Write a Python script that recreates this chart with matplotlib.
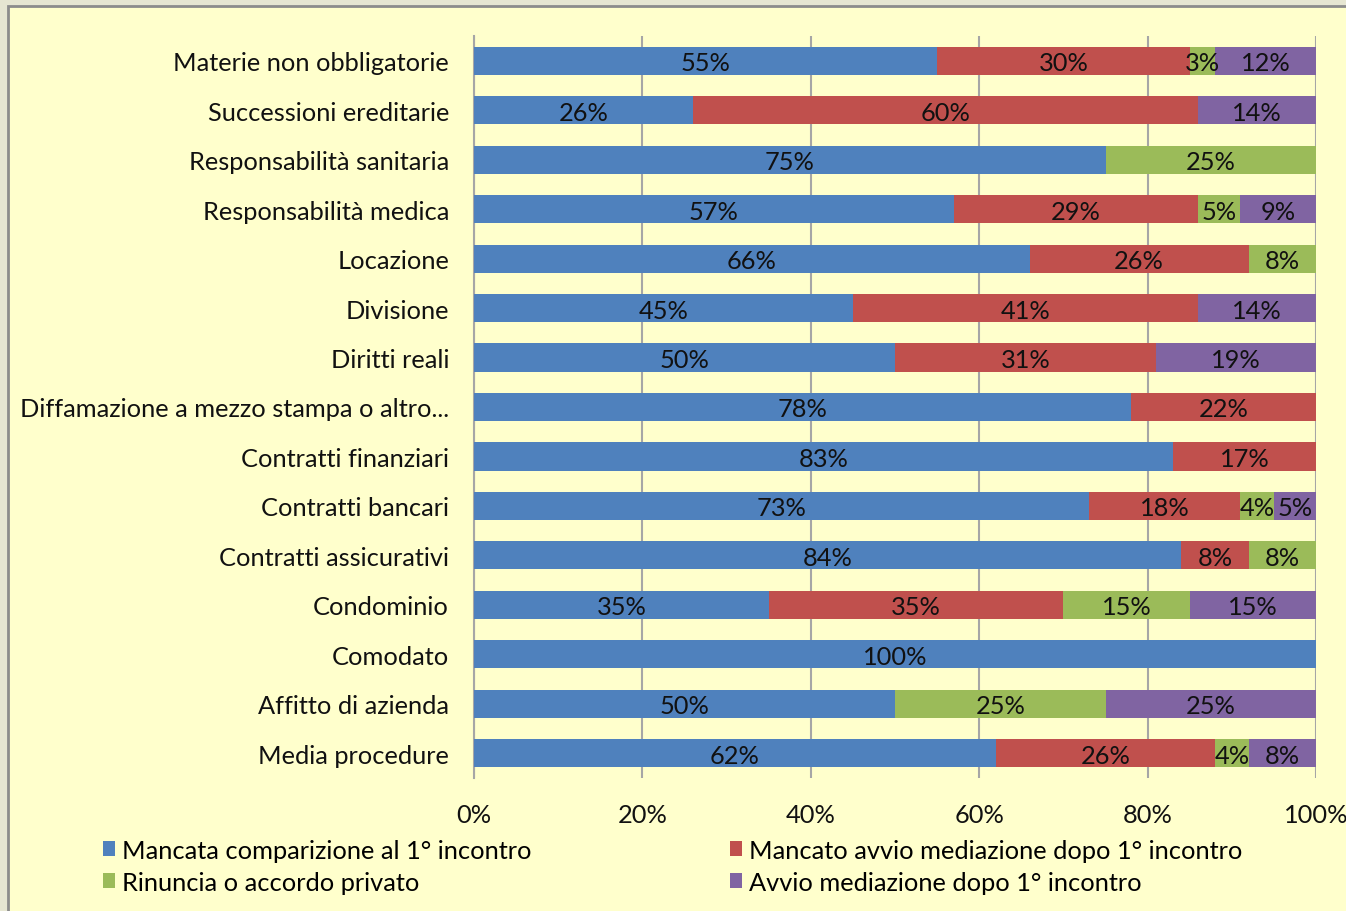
import matplotlib.pyplot as plt
from matplotlib.patches import Rectangle

categories = ["Materie non obbligatorie", "Successioni ereditarie", "Responsabilità sanitaria",
              "Responsabilità medica", "Locazione", "Divisione", "Diritti reali",
              "Diffamazione a mezzo stampa o altro...", "Contratti finanziari", "Contratti bancari",
              "Contratti assicurativi", "Condominio", "Comodato", "Affitto di azienda",
              "Media procedure"]

mancata_comparizione = [55, 26, 75, 57, 66, 45, 50, 78, 83, 73, 84, 35, 100, 50, 62]
mancato_avvio = [30, 60, 0, 29, 26, 41, 31, 22, 17, 18, 8, 35, 0, 0, 26]
rinuncia = [3, 0, 25, 5, 8, 0, 0, 0, 0, 4, 8, 15, 0, 25, 4]
avvio = [12, 14, 0, 9, 0, 14, 19, 0, 0, 5, 0, 15, 0, 25, 8]

series_names = ["Mancata comparizione al 1° incontro", "Mancato avvio mediazione dopo 1° incontro",
                "Rinuncia o accordo privato", "Avvio mediazione dopo 1° incontro"]
colors = ["#4F81BD", "#C0504D", "#9BBB59", "#8064A2"]

plt.rcParams['font.family'] = ['Lato', 'DejaVu Sans']
FS = 18.3

fig = plt.figure(figsize=(13.46, 9.12), dpi=100)
fig.patch.set_facecolor("#E6E6D2")
# chart frame
fig.patches.append(Rectangle((8 / 1346, -0.05), 1.1, 1 - 7 / 912 + 0.05, transform=fig.transFigure,
                             facecolor="#FFFFCC", edgecolor="#8C8C8C", linewidth=2, zorder=-5))

ax = fig.add_axes([474 / 1346, 1 - 779 / 912, (1316 - 474) / 1346, (779 - 37) / 912])
ax.set_facecolor("none")

y = list(range(len(categories)))[::-1]
left = [0] * len(categories)
handles = []
for vals, name, col in zip([mancata_comparizione, mancato_avvio, rinuncia, avvio], series_names, colors):
    bars = ax.barh(y, vals, left=left, height=0.57, color=col, label=name, zorder=3)
    handles.append(bars)
    for b, v, l in zip(bars, vals, left):
        if v > 0:
            ax.text(l + v / 2, b.get_y() + b.get_height() / 2 - 0.04, f"{v}%", ha="center", va="center",
                    fontsize=FS, color="#111111", zorder=4)
    left = [a + b for a, b in zip(left, vals)]

ax.set_xlim(0, 100)
ax.set_ylim(-0.5, len(categories) - 0.5)
ax.set_yticks(y)
ax.set_yticklabels(categories, fontsize=FS, color="#111111")
ax.set_xticks([0, 20, 40, 60, 80, 100])
ax.set_xticklabels([f"{t}%" for t in [0, 20, 40, 60, 80, 100]], fontsize=FS, color="#111111")
ax.tick_params(axis="y", length=0, pad=18)
ax.tick_params(axis="x", length=0, pad=18)
ax.grid(axis="x", color="#A6A6A6", linewidth=1.5, zorder=1)
for s in ["top", "right", "bottom"]:
    ax.spines[s].set_visible(False)
ax.spines["left"].set_color("#A6A6A6")
ax.spines["left"].set_linewidth(1.5)

order = [0, 2, 1, 3]
fig.legend(handles=[handles[i] for i in order], labels=[series_names[i] for i in order],
           loc="upper left", bbox_to_anchor=(90 / 1346, 1 - 827 / 912),
           ncol=2, frameon=False, fontsize=FS, handlelength=0.5, handleheight=0.5, handletextpad=0.25,
           columnspacing=7.8, labelspacing=0.35, borderpad=0)

fig.savefig("out.png", dpi=100, facecolor=fig.get_facecolor())
